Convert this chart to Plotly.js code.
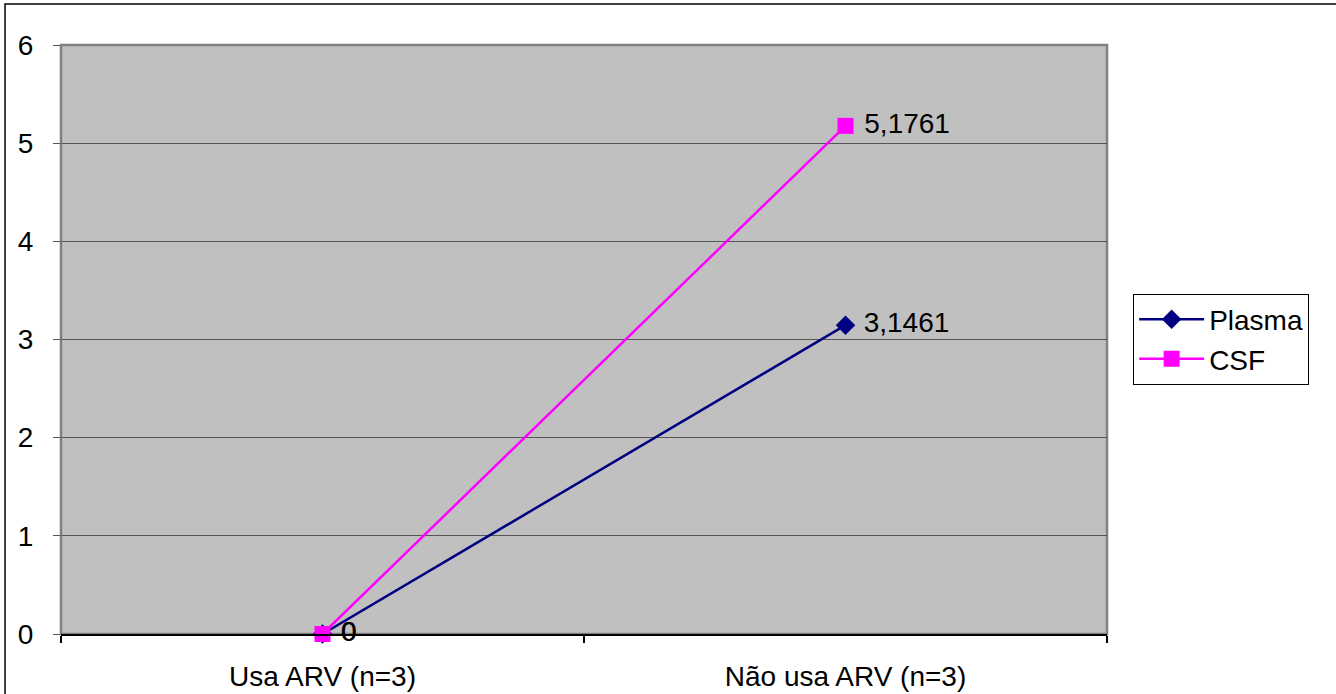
<!DOCTYPE html>
<html>
<head>
<meta charset="utf-8">
<script src="https://cdn.plot.ly/plotly-3.0.1.min.js"></script>
<style>html,body{margin:0;padding:0;background:#fff;}</style>
</head>
<body>
<div id="chart" style="width:1336px;height:694px;"></div>
<script>
const categories = ["Usa ARV (n=3)", "Não usa ARV (n=3)"];
const plasmaValues = [0, 3.1461];
const csfValues = [0, 5.1761];
const yTickVals = [0, 1, 2, 3, 4, 5, 6];

const font = "Liberation Sans, Arial, sans-serif";
const fs = 28;

const traces = [
  {
    name: "Plasma",
    x: categories,
    y: plasmaValues,
    type: "scatter",
    mode: "lines+markers+text",
    line: {color: "#000080", width: 2.5},
    marker: {symbol: "diamond", size: 15, color: "#000080"},
    texttemplate: "\u00a0%{y:.4~f}",
    textposition: "middle right",
    textfont: {family: font, size: fs, color: "#000"},
    cliponaxis: false
  },
  {
    name: "CSF",
    x: categories,
    y: csfValues,
    type: "scatter",
    mode: "lines+markers+text",
    line: {color: "#FF00FF", width: 2.5},
    marker: {symbol: "square", size: 16, color: "#FF00FF"},
    texttemplate: "\u00a0%{y:.4~f}",
    textposition: "middle right",
    textfont: {family: font, size: fs, color: "#000"},
    cliponaxis: false
  }
];

const layout = {
  width: 1336,
  height: 694,
  margin: {l: 61, r: 229, t: 45, b: 60},
  paper_bgcolor: "#fff",
  plot_bgcolor: "#C0C0C0",
  separators: ",.",
  font: {family: font, size: fs, color: "#000"},
  showlegend: true,
  legend: {
    x: 1.025, y: 0.578, xanchor: "left", yanchor: "top",
    bordercolor: "#000", borderwidth: 1, bgcolor: "#fff",
    font: {family: font, size: fs, color: "#000"},
    tracegroupgap: 0,
    itemwidth: 65
  },
  xaxis: {
    type: "category",
    range: [-0.5, 1.5],
    tickson: "boundaries",
    ticks: "outside",
    ticklen: 7,
    tickcolor: "#000",
    tickwidth: 1.5,
    showgrid: false,
    showline: true,
    linecolor: "#000",
    linewidth: 2,
    ticklabelstandoff: 16,
    tickfont: {family: font, size: fs, color: "#000"},
    fixedrange: true
  },
  yaxis: {
    range: [0, 6],
    tickvals: yTickVals,
    ticks: "outside",
    ticklen: 7,
    tickcolor: "#555",
    showgrid: true,
    gridcolor: "#555",
    gridwidth: 1,
    zeroline: false,
    showline: false,
    ticklabelstandoff: 14,
    tickfont: {family: font, size: fs, color: "#000"},
    fixedrange: true
  },
  shapes: [
    {type: "rect", xref: "paper", yref: "paper", x0: 0, x1: 1, y0: 0, y1: 1,
     line: {color: "#808080", width: 2.5}, layer: "below"},
    {type: "rect", xref: "paper", yref: "paper", x0: -0.0535, x1: 1.4, y0: -0.3, y1: 1.0696,
     line: {color: "#000", width: 1.5}, fillcolor: "rgba(0,0,0,0)"}
  ]
};

Plotly.newPlot("chart", traces, layout, {displayModeBar: false, staticPlot: true});
</script>
</body>
</html>
